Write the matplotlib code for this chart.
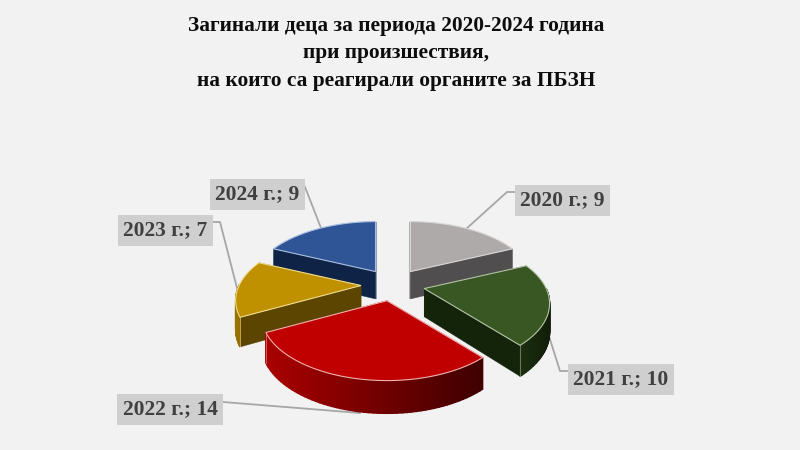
#!/usr/bin/env python3
# plot.py - exploded 3D-looking pie, drawn by hand since matplotlib has no 3D pie

import numpy as np
import matplotlib
matplotlib.use("Agg")
import matplotlib.pyplot as plt
from matplotlib.patches import Polygon

years = ["2020 г.", "2021 г.", "2022 г.", "2023 г.", "2024 г."]
deaths = [9, 10, 14, 7, 9]

title_lines = ["Загинали деца за периода 2020-2024 година",
               "при произшествия,",
               "на които са реагирали органите за ПБЗН"]

top_colors = ["#aeaaaa", "#385723", "#c00000", "#bf9000", "#2f5597"]
wall_colors = ["#504e4e", "#14240b", "#7a0000", "#5c4500", "#0f2347"]
arc_left = ["#6e6c6c", "#1c300f", "#ab0000", "#9a7400", "#1a3568"]
arc_right = ["#4a4848", "#101d08", "#3f0000", "#7a5c00", "#0f2347"]
edge_colors = ["#d8d6d6", "#b5c4a8", "#f2b0b0", "#f0dc90", "#a9bde0"]

# label box centres and leader lines, in pixels
label_pos = [(562.5, 200.5), (621, 379.5), (170, 409.5), (165.5, 230.5), (257.5, 194.5)]
leaders = [[(515, 192), (507, 192), (466, 229)],
           [(567, 371), (560, 371), (548, 333)],
           [(223, 402), (360, 413)],
           [(213, 222), (220, 222), (237, 288)],
           [(305, 187), (321, 228)]]

CX, CY = 393, 285  # pie centre
RX, RY, K = 122, 61.5, 0.23  # radii and perspective strength
EX, EY = 32, 16  # explode distance


def rim(theta):
    # offset of a rim point from the slice apex, theta clockwise from 12 o'clock
    u, v = np.sin(theta), -np.cos(theta)
    w = 1 - K * v
    return RX * u / w, RY * v / w


def depth(y):
    # front of the pie looks a bit thicker
    return 28 + 4 * (y - CY) / 80


def lower(pts):
    return [(x, y + depth(y)) for x, y in pts]


def mix(c1, c2, t):
    a = np.array(matplotlib.colors.to_rgb(c1))
    b = np.array(matplotlib.colors.to_rgb(c2))
    return tuple(a + (b - a) * t)


def draw_slice(ax, start, end, i):
    mid = (start + end) / 2
    ax0 = CX + EX * np.sin(mid)
    ay0 = CY - EY * np.cos(mid)

    thetas = np.linspace(start, end, 60)
    dx, dy = rim(thetas)
    arc = list(zip(ax0 + dx, ay0 + dy))
    apex = (ax0, ay0)

    # radial walls first
    for p in (arc[0], arc[-1]):
        wall = [apex, p] + lower([p, apex])
        ax.add_patch(Polygon(wall, closed=True, fc=wall_colors[i], ec=wall_colors[i], lw=0.3))

    # outer wall, only the part facing the viewer
    xs = [p[0] for p in arc]
    x0, x1 = min(xs), max(xs)
    for j in range(len(arc) - 1):
        if np.cos(thetas[j]) > 0.02:
            continue
        a, b = arc[j], arc[j + 1]
        t = (a[0] - x0) / max(x1 - x0, 1)
        col = mix(arc_left[i], arc_right[i], t)
        ax.add_patch(Polygon([a, b] + lower([b, a]), closed=True, fc=col, ec=col, lw=1.0))

    # light line on the corners at the front
    for p, th in ((arc[0], start), (arc[-1], end)):
        if np.cos(th) < -0.02:
            ax.plot([p[0], p[0]], [p[1], p[1] + depth(p[1])], color=edge_colors[i], lw=0.6, alpha=0.6)

    # top face
    ax.add_patch(Polygon([apex] + arc, closed=True, fc=top_colors[i], ec=edge_colors[i], lw=0.8))


def main():
    fig = plt.figure(figsize=(8, 4.5), dpi=100, facecolor="#f2f2f2")
    ax = fig.add_axes([0, 0, 1, 1])
    ax.set_xlim(0, 800)
    ax.set_ylim(450, 0)
    ax.axis("off")

    edges = np.radians(np.cumsum([0] + deaths) / sum(deaths) * 360)

    # leaders sit behind the slices
    for line in leaders:
        ax.plot(*zip(*line), color="#a6a6a6", lw=1.3, zorder=0.5)

    # back slices first
    for i in [4, 0, 3, 1, 2]:
        draw_slice(ax, edges[i], edges[i + 1], i)

    for i, (x, y) in enumerate(label_pos):
        ax.text(x, y, f"{years[i]}; {deaths[i]}", ha="center", va="center",
                family="Liberation Serif", weight="bold", fontsize=15.5, color="#404040",
                bbox=dict(fc="#cfcfcf", ec="none", boxstyle="square,pad=0.25"), zorder=5)

    for line, y in zip(title_lines, [26, 53, 81]):
        ax.text(396, y, line, ha="center", va="center", family="Liberation Serif",
                weight="bold", fontsize=15.4, color="#0d0d0d")

    fig.savefig("out.png", dpi=100, facecolor=fig.get_facecolor())


if __name__ == "__main__":
    main()
